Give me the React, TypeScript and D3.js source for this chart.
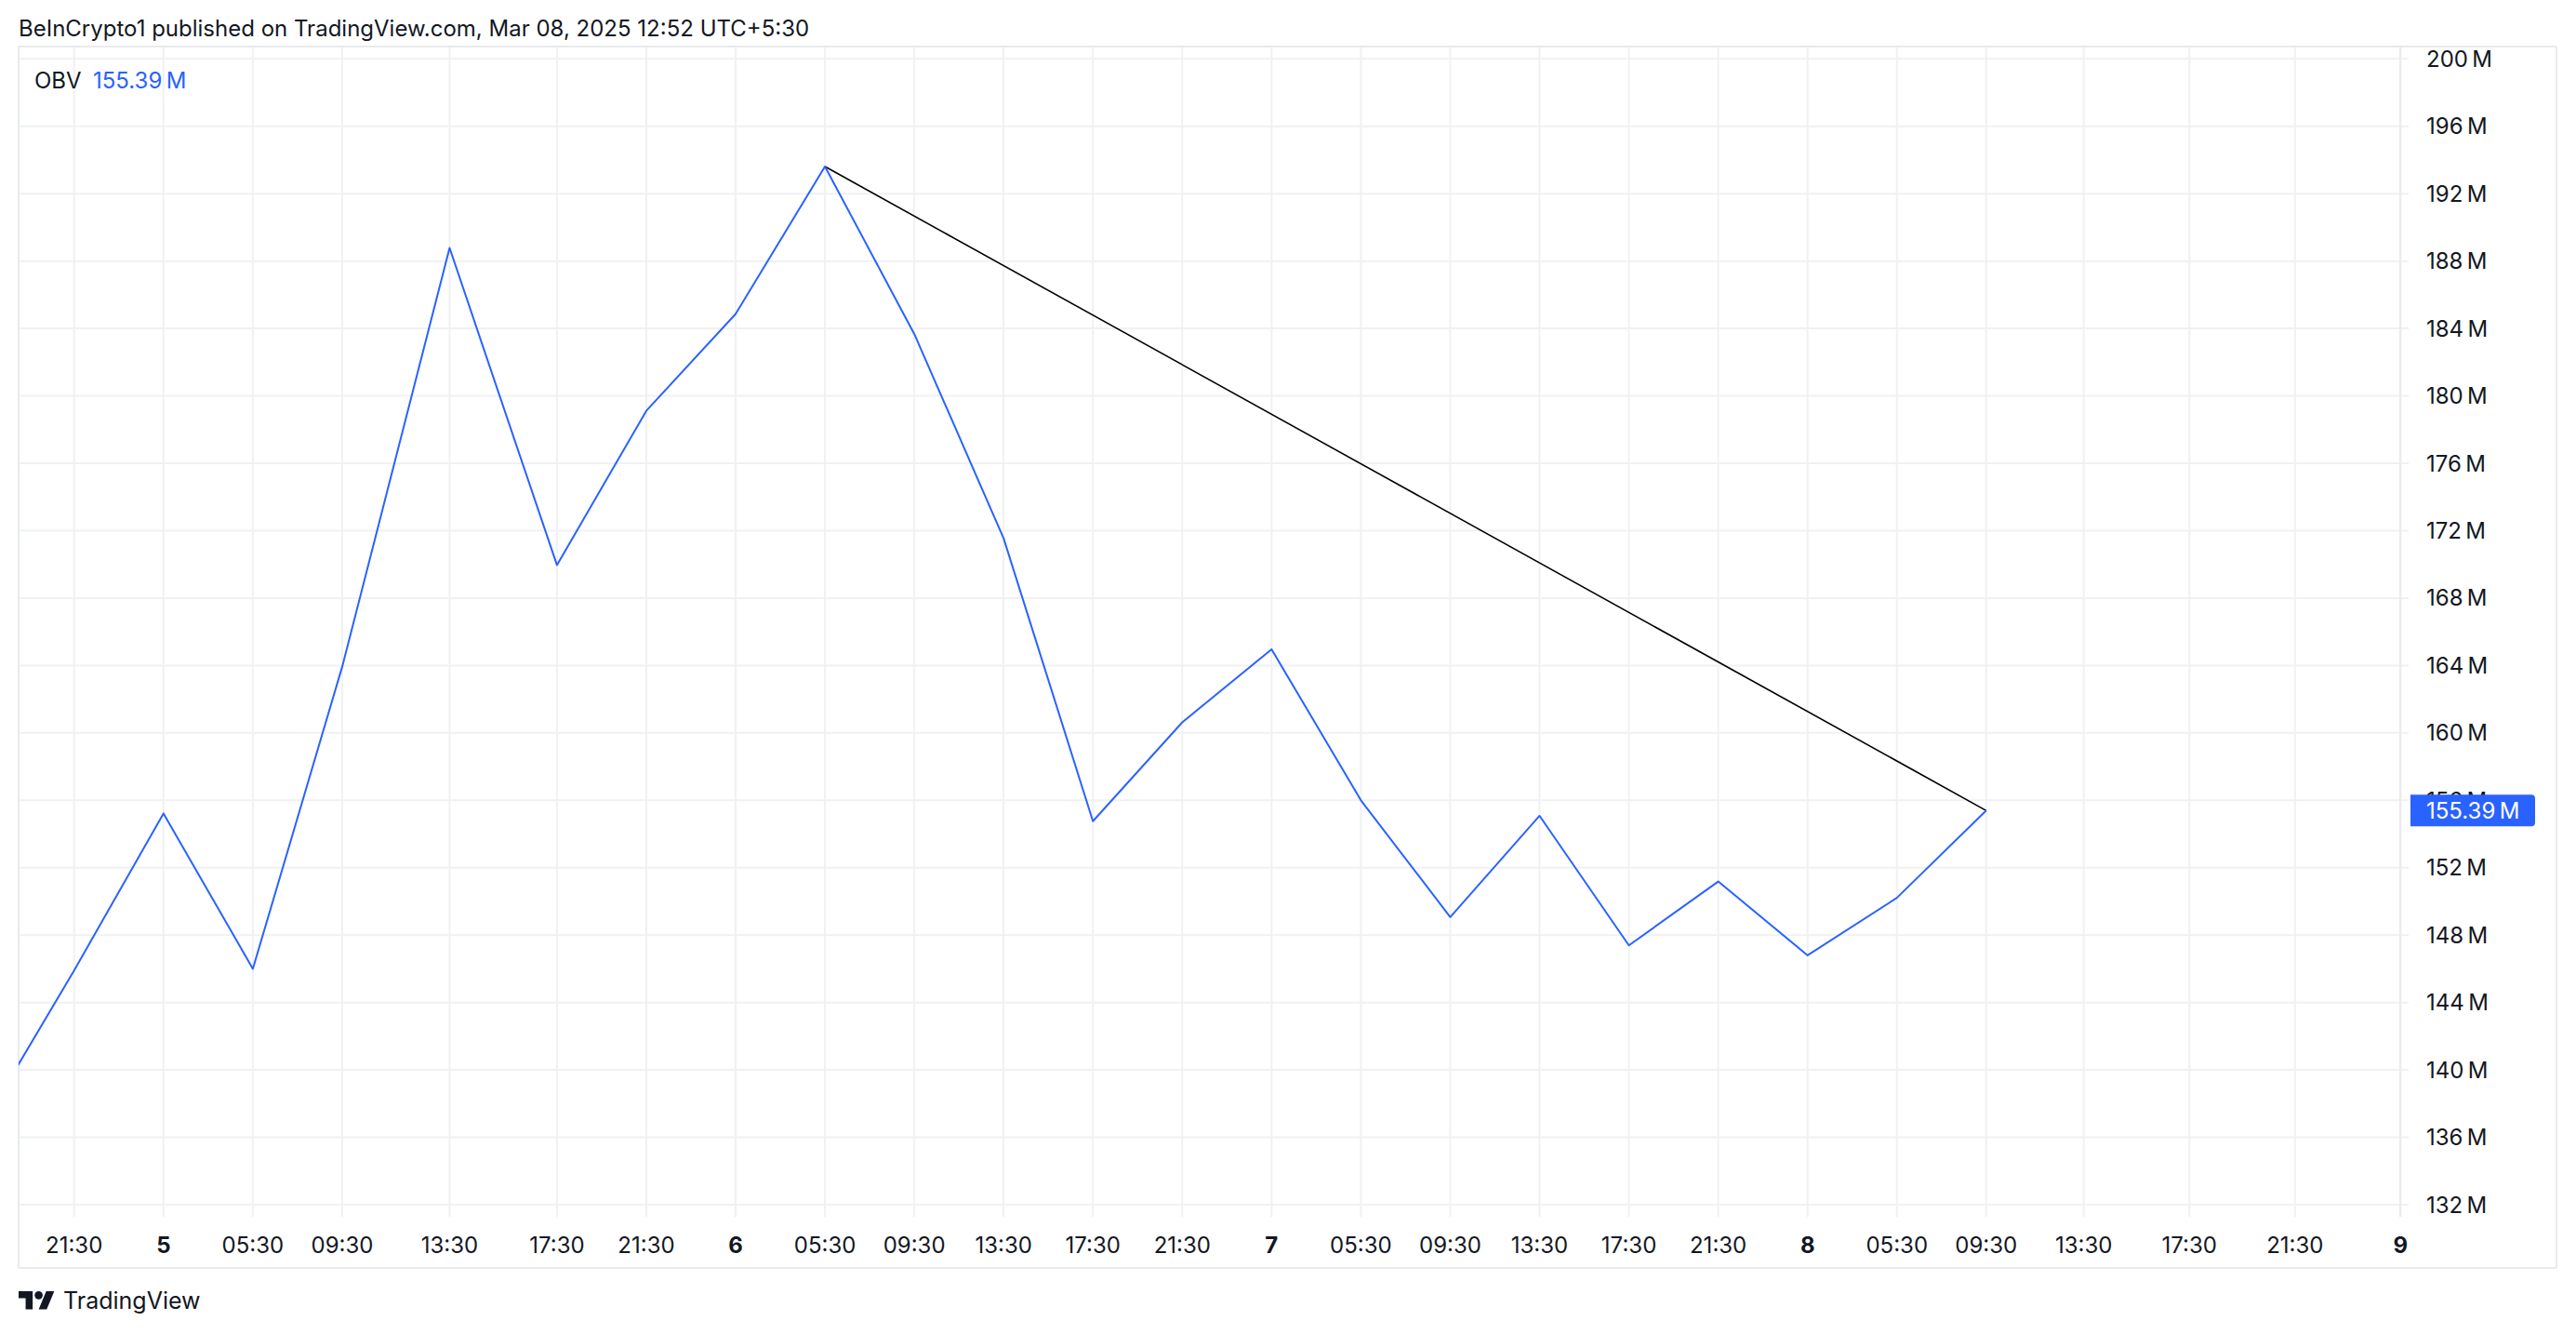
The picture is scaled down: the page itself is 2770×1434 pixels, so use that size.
import React from "react";
import * as d3 from "d3";

// ---- data (values in millions) ----
const obvHours = [-4, 0, 4, 8, 12, 16, 20, 24, 28, 32, 36, 40, 44, 48, 52, 56, 60, 64, 68, 72, 76, 80, 84];
const obvValues = [136.95, 145.9, 155.22, 146.0, 163.93, 188.78, 169.96, 179.11, 184.86, 193.61, 183.68, 171.55, 154.76, 160.63, 164.96, 156.0, 149.07, 155.08, 147.39, 151.18, 146.8, 150.21, 155.39];
const trendHours = [32, 84];
const trendValues = [193.61, 155.39];
const tickHours = [0, 4, 8, 12, 16, 20, 24, 28, 32, 36, 40, 44, 48, 52, 56, 60, 64, 68, 72, 76, 80, 84, 88, 92, 96, 100];
const tickLabels = ["21:30", "5", "05:30", "09:30", "13:30", "17:30", "21:30", "6", "05:30", "09:30", "13:30", "17:30", "21:30", "7", "05:30", "09:30", "13:30", "17:30", "21:30", "8", "05:30", "09:30", "13:30", "17:30", "21:30", "9"];
const dayLabels = ["5", "6", "7", "8", "9"];
const yTicks = [132, 136, 140, 144, 148, 152, 156, 160, 164, 168, 172, 176, 180, 184, 188, 192, 196, 200];
const lastValue = 155.39;
const headerText = "BeInCrypto1 published on TradingView.com, Mar 08, 2025 12:52 UTC+5:30";
const indicatorName = "OBV";

// ---- layout ----
const W = 2770, H = 1434;
const left = 20, top = 50, paneRight = 2581, outerRight = 2749, plotBottom = 1308, outerBottom = 1363;
const FONT = "Inter, 'Noto Sans', Roboto, sans-serif";
const TEXT = "#131722";
const BLUE = "#2962ff";
const GRID = "#f0f1f3";
const BORDER = "#e9eaed";

export default function App() {
  // time axis: piecewise linear (TradingView bar spacing as seen in chart)
  const x = d3.scaleLinear()
    .domain([0, 12, 20, 84, 88, 100])
    .range([79.7, 368, 598.9, 2135.8, 2240.7, 2581.4]);
  const y = d3.scaleLinear().domain([132, 200]).range([1295, 63.3]);

  const fmt = (v: number) => `${v}\u2009M`;
  const line = d3.line<number>()
    .x((_, i) => x(obvHours[i]))
    .y((d) => y(d));
  const trend = d3.line<number>()
    .x((_, i) => x(trendHours[i]))
    .y((d) => y(d));

  const lastY = y(lastValue);

  return (
    <svg width={W} height={H} style={{ position: "absolute", left: 0, top: 0, display: "block", background: "#fff" }}
      fontFamily={FONT}>
      <rect x={0} y={0} width={W} height={H} fill="#fff" />
      <defs>
        <clipPath id="plotClip">
          <rect x={left} y={top} width={paneRight - left} height={plotBottom - top} />
        </clipPath>
      </defs>

      {/* header */}
      <text x={20} y={39} fontSize={24} fill={TEXT}>{headerText}</text>

      {/* horizontal grid */}
      {yTicks.map((v) => (
        <line key={"hg" + v} x1={left} x2={paneRight + 9} y1={y(v)} y2={y(v)} stroke={GRID} strokeWidth={2} />
      ))}
      {/* vertical grid */}
      {tickHours.map((h, i) => (
        <line key={"vg" + i} x1={x(h)} x2={x(h)} y1={top} y2={plotBottom} stroke={GRID} strokeWidth={2} />
      ))}

      {/* frame */}
      <line x1={left} x2={outerRight} y1={top} y2={top} stroke={BORDER} strokeWidth={2} />
      <line x1={left} x2={outerRight} y1={outerBottom} y2={outerBottom} stroke={BORDER} strokeWidth={2} />
      <line x1={left} x2={left} y1={top} y2={outerBottom} stroke={BORDER} strokeWidth={2} />
      <line x1={outerRight} x2={outerRight} y1={top} y2={outerBottom} stroke={BORDER} strokeWidth={2} />
      <line x1={paneRight} x2={paneRight} y1={top} y2={plotBottom} stroke={BORDER} strokeWidth={2} />

      {/* series */}
      <g clipPath="url(#plotClip)">
        <path d={trend(trendValues) || ""} fill="none" stroke="#000" strokeWidth={1.6} />
        <path d={line(obvValues) || ""} fill="none" stroke={BLUE} strokeWidth={2} strokeLinejoin="round" />
      </g>

      {/* legend */}
      <text x={37} y={86} fontSize={24} fill={TEXT} dominantBaseline="central">{indicatorName}</text>
      <text x={100} y={86} fontSize={24} fill={BLUE} dominantBaseline="central">{fmt(lastValue)}</text>

      {/* y axis labels */}
      {yTicks.map((v) => (
        <text key={"yl" + v} x={2609} y={y(v)} fontSize={24} fill={TEXT} dominantBaseline="central">{fmt(v)}</text>
      ))}

      {/* last value marker */}
      <path d={`M2592,${lastY - 17} H2722 a4,4 0 0 1 4,4 V${lastY + 13} a4,4 0 0 1 -4,4 H2592 Z`} fill={BLUE} />
      <text x={2609} y={lastY} fontSize={24} fill="#fff" dominantBaseline="central">{fmt(lastValue)}</text>

      {/* x axis labels */}
      {tickHours.map((h, i) => (
        <text key={"xl" + i} x={x(h)} y={1338.5} fontSize={24} fill={TEXT} textAnchor="middle" dominantBaseline="central"
          fontWeight={dayLabels.includes(tickLabels[i]) ? 700 : 400}>{tickLabels[i]}</text>
      ))}

      {/* TradingView logo */}
      <g transform="translate(20,1383.7) scale(1.08)" fill="#131722">
        <path d="M14 22H7V11H0V4h14v18zM28 22h-8l7.5-18h8L28 22z" />
        <circle cx={20} cy={8} r={4} />
      </g>
      <text x={68} y={1407} fontSize={25} fill={TEXT}>TradingView</text>
    </svg>
  );
}
